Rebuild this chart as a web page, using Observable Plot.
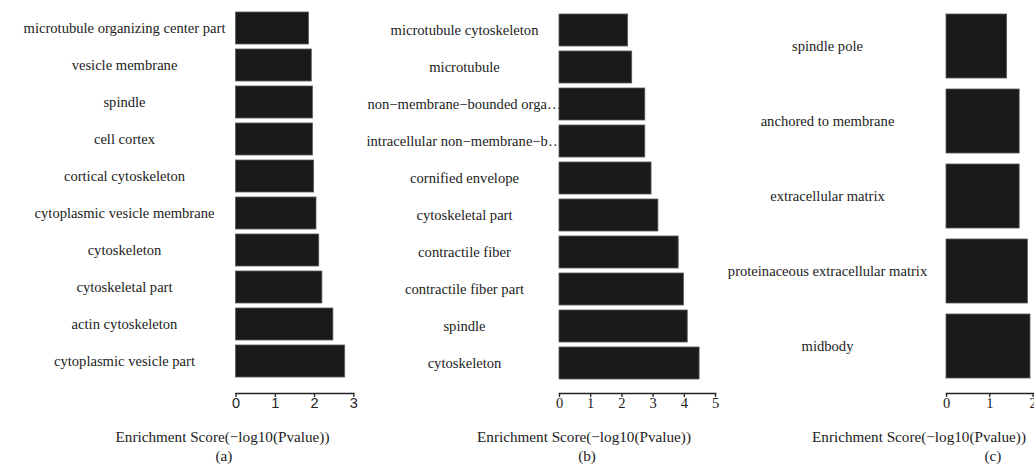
<!DOCTYPE html>
<html>
<head>
<meta charset="utf-8">
<script src="https://cdn.jsdelivr.net/npm/d3@7"></script>
<script src="https://cdn.jsdelivr.net/npm/@observablehq/plot@0.6"></script>
<style>
  html, body { margin: 0; padding: 0; background: #fff; }
  #wrap { position: relative; width: 1034px; height: 465px; overflow: hidden; background: #fff; }
  .panel { position: absolute; top: 0; }
  .cap { position: absolute; width: 300px; text-align: center; font-family: "Liberation Serif", "Times New Roman", serif; font-size: 15.2px; color: #222; line-height: 1; white-space: nowrap; }
</style>
</head>
<body>
<div id="wrap"></div>
<script>
// ---- Data (top-to-bottom order as drawn) ----
const termsA = ["microtubule organizing center part", "vesicle membrane", "spindle", "cell cortex",
  "cortical cytoskeleton", "cytoplasmic vesicle membrane", "cytoskeleton", "cytoskeletal part",
  "actin cytoskeleton", "cytoplasmic vesicle part"];
const scoresA = [1.86, 1.93, 1.96, 1.96, 1.99, 2.05, 2.12, 2.20, 2.48, 2.78];

const termsB = ["microtubule cytoskeleton", "microtubule", "non\u2212membrane\u2212bounded orga\u2026",
  "intracellular non\u2212membrane\u2212b\u2026", "cornified envelope", "cytoskeletal part",
  "contractile fiber", "contractile fiber part", "spindle", "cytoskeleton"];
const scoresB = [2.20, 2.33, 2.75, 2.75, 2.95, 3.17, 3.82, 3.99, 4.11, 4.49];

const termsC = ["spindle pole", "anchored to membrane", "extracellular matrix",
  "proteinaceous extracellular matrix", "midbody"];
const scoresC = [1.40, 1.69, 1.69, 1.88, 1.94];

const ticksA = [0, 1, 2, 3];
const ticksB = [0, 1, 2, 3, 4, 5];
const ticksC = [0, 1, 2];

const xTitle = "Enrichment Score(\u2212log10(Pvalue))";
const panelLetters = ["(a)", "(b)", "(c)"];

// ---- Panel builder ----
const wrap = document.getElementById("wrap");

function panel({terms, scores, ticks, domain, left, width, marginLeft, marginRight, marginTop,
                insetBottom, padding, labelCenter, tickFont}) {
  const data = terms.map((t, i) => ({term: t, score: scores[i]}));
  const chart = Plot.plot({
    width, height: 420,
    marginLeft, marginRight, marginTop, marginBottom: 27,
    style: {fontFamily: tickFont, fontSize: "14px", color: "#222", background: "transparent", overflow: "visible"},
    x: {domain, axis: null},
    y: {domain: terms, axis: null, padding, insetBottom},
    marks: [
      Plot.barX(data, {x: "score", y: "term", fill: "#1a1a1a", stroke: "#5a5a5a", strokeWidth: 0.8}),
      Plot.text(data, {y: "term", text: "term", frameAnchor: "left", dx: labelCenter - marginLeft,
        textAnchor: "middle", fontFamily: "Liberation Serif", fontSize: 14.6, fill: "#222"}),
      Plot.frame({anchor: "bottom", stroke: "#222", strokeWidth: 1.5}),
      Plot.axisX({ticks, tickSize: 4, tickPadding: 0, fontSize: 14.5, stroke: "#222", strokeWidth: 1.3,
        label: null, tickFormat: d3.format("d")})
    ]
  });
  const div = document.createElement("div");
  div.className = "panel";
  div.style.left = left + "px";
  div.appendChild(chart);
  wrap.appendChild(div);
}

panel({terms: termsA, scores: scoresA, ticks: ticksA, domain: [0, 3], left: 0, width: 370,
  marginLeft: 235.5, marginRight: 16.7, marginTop: 6, insetBottom: 9, padding: 0.134,
  labelCenter: 124, tickFont: "Liberation Sans, Arial, sans-serif"});
panel({terms: termsB, scores: scoresB, ticks: ticksB, domain: [0, 5], left: 360, width: 370,
  marginLeft: 199, marginRight: 15, marginTop: 7, insetBottom: 7.7, padding: 0.142,
  labelCenter: 104, tickFont: "Liberation Serif, Times New Roman, serif"});
panel({terms: termsC, scores: scoresC, ticks: ticksC, domain: [0, 2], left: 720, width: 314,
  marginLeft: 226, marginRight: 1.4, marginTop: 1, insetBottom: 1.6, padding: 0.15,
  labelCenter: 107, tickFont: "Liberation Serif, Times New Roman, serif"});

// ---- Captions below each panel ----
function cap(text, cx, cy) {
  const d = document.createElement("div");
  d.className = "cap";
  d.textContent = text;
  d.style.left = (cx - 150) + "px";
  d.style.top = (cy - 8) + "px";
  wrap.appendChild(d);
}
cap(xTitle, 222.5, 437); cap(panelLetters[0], 224, 456);
cap(xTitle, 584, 437);   cap(panelLetters[1], 587, 456);
cap(xTitle, 919, 437);   cap(panelLetters[2], 993, 456);
</script>
</body>
</html>
